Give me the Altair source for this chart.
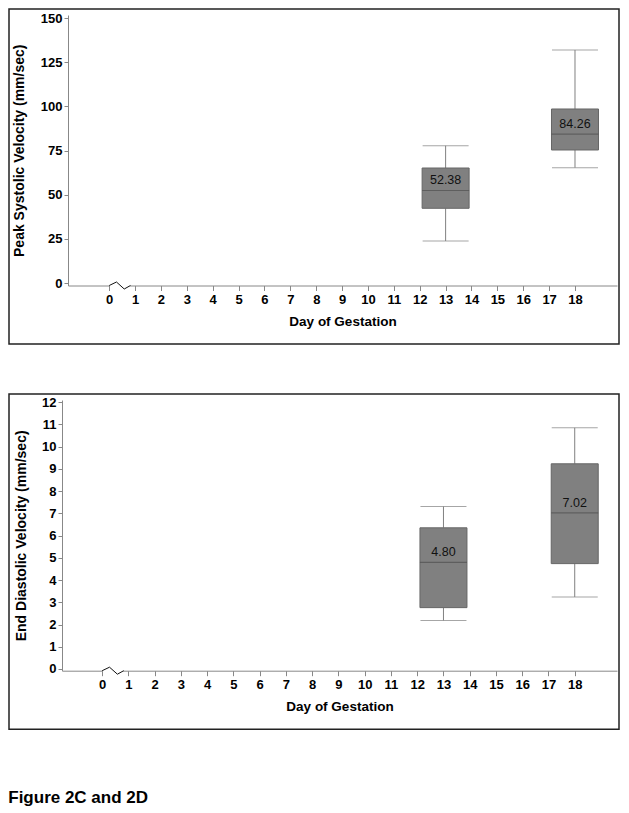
import altair as alt
import pandas as pd

FONT = "Liberation Sans"

# ---- data ----
DAYS = [13, 18]
TICK_DAYS = list(range(0, 19))

PSV_LOW = [23.8, 65.3]
PSV_Q1 = [42.3, 75.3]
PSV_MED = [52.38, 84.26]
PSV_Q3 = [65.1, 98.5]
PSV_HIGH = [77.7, 131.9]
PSV_LABELS = ["52.38", "84.26"]
PSV_TICKS = [0, 25, 50, 75, 100, 125, 150]

EDV_LOW = [2.18, 3.24]
EDV_Q1 = [2.76, 4.74]
EDV_MED = [4.80, 7.02]
EDV_Q3 = [6.35, 9.23]
EDV_HIGH = [7.31, 10.85]
EDV_LABELS = ["4.80", "7.02"]
EDV_TICKS = list(range(0, 13))

# axis-break glyph between day 0 and 1 (x in days, y as pixel offsets from axis)
BREAK_DAY = [0.0, 0.28, 0.58, 0.82]
BREAK_PX = [0.0, -3.5, 3.5, 0.0]

W = 555


def panel(low, q1, med, q3, high, labels, yticks, ydom, xdom, xstart, h,
          ytitle, ytitle_pad):
    df = pd.DataFrame({"day": DAYS, "low": low, "q1": q1, "med": med,
                       "q3": q3, "high": high, "label": labels})
    xs = alt.Scale(domain=xdom, range=[xstart, W], nice=False, zero=False)
    ys = alt.Scale(domain=ydom, nice=False, zero=False)
    xax = alt.Axis(values=TICK_DAYS, title="Day of Gestation", tickSize=5,
                   labelPadding=3, titlePadding=8, format="d")
    yax = alt.Axis(values=yticks, title=ytitle, tickSize=4, labelPadding=2,
                   titlePadding=ytitle_pad, format="d", offset=-xstart,
                   titleFontSize=14)
    X = alt.X("day:Q", scale=xs, axis=xax)

    frame = alt.Chart(pd.DataFrame({"f": [0]})).mark_rect(
        fillOpacity=0, stroke="#222222", strokeWidth=1.5
    ).encode(x=alt.value(-53), x2=alt.value(W + 2),
             y=alt.value(-6), y2=alt.value(h + 58.5))

    per_px = (ydom[1] - ydom[0]) / h
    bdf = pd.DataFrame({"day": BREAK_DAY,
                        "v": [ydom[0] - p * per_px for p in BREAK_PX]})
    cover = alt.Chart(pd.DataFrame({"a": [BREAK_DAY[0] + 0.03],
                                    "b": [BREAK_DAY[-1] - 0.02],
                                    "v": [ydom[0]]})).mark_rule(
        color="white", strokeWidth=3
    ).encode(x=alt.X("a:Q", scale=xs, axis=xax), x2="b:Q",
             y=alt.Y("v:Q", scale=ys, axis=yax))
    brk = alt.Chart(bdf).mark_line(color="#111111", strokeWidth=1).encode(
        x=alt.X("day:Q", scale=xs, axis=xax),
        y=alt.Y("v:Q", scale=ys, axis=yax))

    base = alt.Chart(df)
    whisk_lo = base.mark_rule(color="#808080").encode(
        x=X, y=alt.Y("low:Q", scale=ys, axis=yax), y2="q1:Q")
    whisk_hi = base.mark_rule(color="#808080").encode(
        x=X, y=alt.Y("q3:Q", scale=ys, axis=yax), y2="high:Q")
    cap_lo = base.mark_tick(orient="horizontal", size=46, thickness=1,
                            color="#808080").encode(
        x=X, y=alt.Y("low:Q", scale=ys, axis=yax))
    cap_hi = base.mark_tick(orient="horizontal", size=46, thickness=1,
                            color="#808080").encode(
        x=X, y=alt.Y("high:Q", scale=ys, axis=yax))
    box = base.mark_bar(size=47, fill="#808080", stroke="#666666",
                        strokeWidth=1).encode(
        x=X, y=alt.Y("q1:Q", scale=ys, axis=yax), y2="q3:Q")
    median = base.mark_tick(orient="horizontal", size=47, thickness=1.2,
                            color="#505050").encode(
        x=X, y=alt.Y("med:Q", scale=ys, axis=yax))
    text = base.mark_text(dy=-10, fontSize=12.5, color="#111111", font=FONT,
                          baseline="middle").encode(
        x=X, y=alt.Y("med:Q", scale=ys, axis=yax), text="label:N")

    return alt.layer(frame, cover, brk, whisk_lo, whisk_hi, cap_lo, cap_hi,
                     box, median, text).properties(width=W, height=h)


top = panel(PSV_LOW, PSV_Q1, PSV_MED, PSV_Q3, PSV_HIGH, PSV_LABELS,
            PSV_TICKS, [-1.4, 151.7], [-1.40, 19.43], 6, 270.5,
            "Peak Systolic Velocity (mm/sec)", 14)
bottom = panel(EDV_LOW, EDV_Q1, EDV_MED, EDV_Q3, EDV_HIGH, EDV_LABELS,
               EDV_TICKS, [-0.077, 12.1], [-1.34, 19.42], 0, 270.7,
               "End Diastolic Velocity (mm/sec)", 13)

chart = alt.vconcat(
    top, bottom, spacing=48,
    title=alt.TitleParams("Figure 2C and 2D", orient="bottom", anchor="start",
                          fontSize=17, fontWeight="bold", font=FONT,
                          color="black", offset=60),
).properties(padding=0).configure_view(strokeWidth=0).configure_axis(
    grid=False, domainColor="#888888", tickColor="#888888",
    labelColor="black", titleColor="black", labelFont=FONT, titleFont=FONT,
    labelFontSize=13, labelFontWeight="bold", titleFontSize=13.5,
    titleFontWeight="bold", labelFlush=False, labelOverlap=False,
)

chart.save("out.html", embed_options={"renderer": "svg", "actions": False})
